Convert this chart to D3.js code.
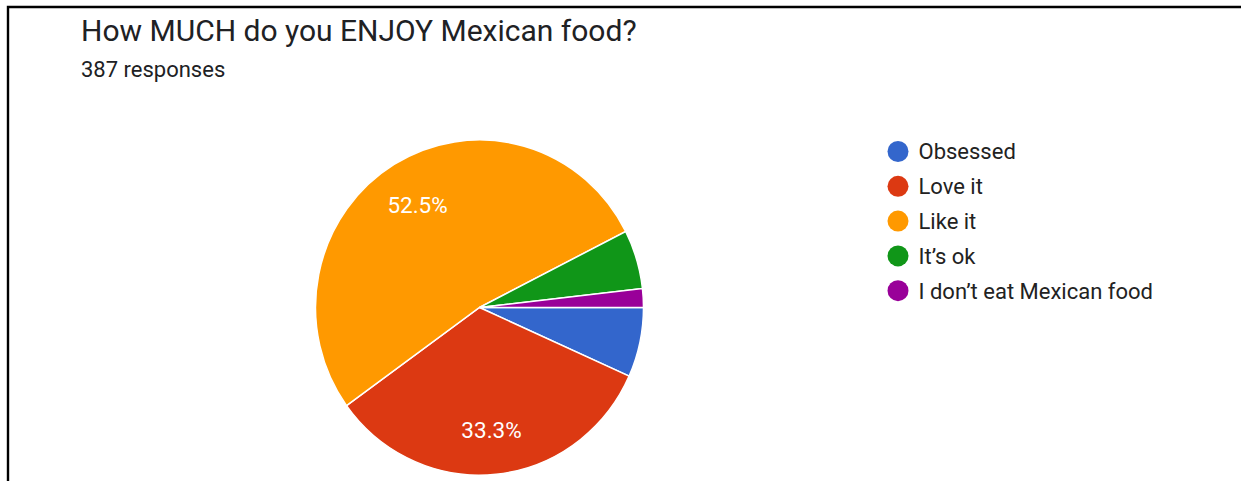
<!DOCTYPE html>
<html>
<head>
<meta charset="utf-8">
<script src="https://cdn.jsdelivr.net/npm/d3@7"></script>
<style>
  html, body { margin: 0; padding: 0; background: #fff; }
  svg { display: block; font-family: Roboto, Arial, sans-serif; }
</style>
</head>
<body>
<svg id="chart" width="1241" height="481"></svg>
<script>
// Survey answers, in legend order
const categories = ["Obsessed", "Love it", "Like it", "It\u2019s ok", "I don\u2019t eat Mexican food"];
const counts = [26, 129, 203, 22, 7];
const colors = ["#3366CC", "#DC3912", "#FF9900", "#109618", "#990099"];
const titleText = "How MUCH do you ENJOY Mexican food?";
const subtitleText = "387 responses";

const svg = d3.select("#chart");
const W = 1241, H = 481;

// frame lines on the left and top
svg.append("path")
  .attr("d", `M8,${H} L8,7 L${W},7`)
  .attr("fill", "none")
  .attr("stroke", "#000")
  .attr("stroke-width", 2.4);

svg.append("text")
  .attr("x", 81).attr("y", 41)
  .attr("font-size", 30)
  .attr("fill", "#202124")
  .text(titleText);

svg.append("text")
  .attr("x", 81).attr("y", 77)
  .attr("font-size", 22)
  .attr("fill", "#202124")
  .text(subtitleText);

// pie
const cx = 479.5, cy = 307.5, r = 164, sy = 1.022;
const total = d3.sum(counts);
const pie = d3.pie().sort(null)
  .startAngle(Math.PI / 2)
  .endAngle(Math.PI / 2 + 2 * Math.PI)
  .value(d => d);
const arcs = pie(counts);
const arc = d3.arc().innerRadius(0).outerRadius(r);
const labelArc = d3.arc().innerRadius(r * 0.725).outerRadius(r * 0.725);

const g = svg.append("g").attr("transform", `translate(${cx},${cy}) scale(1,${sy})`);
g.selectAll("path.slice")
  .data(arcs)
  .enter().append("path")
  .attr("class", "slice")
  .attr("d", arc)
  .attr("fill", (d, i) => colors[i])
  .attr("stroke", "#fff")
  .attr("stroke-width", 1.5);

const fmt = d3.format(".1%");
svg.append("g").selectAll("text")
  .data(arcs.filter(d => d.value / total > 0.1))
  .enter().append("text")
  .attr("transform", d => {
    const [x, y] = labelArc.centroid(d);
    return `translate(${cx + x},${cy + y * sy})`;
  })
  .attr("text-anchor", "middle")
  .attr("dy", "0.42em")
  .attr("font-size", 22.5)
  .attr("fill", "#fff")
  .text(d => fmt(d.value / total));

// legend
const legend = svg.append("g");
const items = legend.selectAll("g")
  .data(categories)
  .enter().append("g")
  .attr("transform", (d, i) => `translate(898,${151.5 + i * 34.8})`);
items.append("circle")
  .attr("r", 10.5)
  .attr("fill", (d, i) => colors[i]);
items.append("text")
  .attr("x", 20.5)
  .attr("dy", "0.36em")
  .attr("font-size", 22)
  .attr("fill", "#222")
  .text(d => d);
</script>
</body>
</html>
